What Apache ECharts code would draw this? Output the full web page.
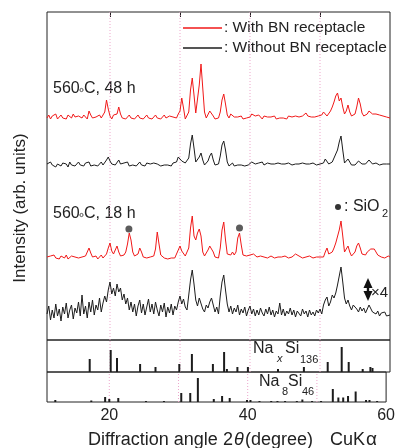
<!DOCTYPE html>
<html>
<head>
<meta charset="utf-8">
<script src="https://cdn.jsdelivr.net/npm/echarts@6/dist/echarts.min.js"></script>
<style>html,body{margin:0;padding:0;background:#fff}#c{width:398px;height:448px}</style>
</head>
<body>
<div id="c"></div>
<script>
// Scan grid (2θ, degrees)
const angleStart = 11, angleStep = 0.25;
// Intensities (arb. units, stacked) — 560°C 48 h, with BN receptacle
const red48 = [
222,225,221,224,223,226,221,223,225,222,224,221,225,223,222,226,223,221,224,223,
222,225,223,221,229,225,222,224,223,221,225,222,224,228,240,231,224,221,225,223,
226,233,226,222,224,221,223,225,222,224,221,223,225,222,224,221,223,225,222,224,
221,223,225,222,224,221,223,225,222,221,224,222,223,221,222,226,229,242,232,221,
220,228,250,262,245,227,226,255,276,252,228,222,224,229,231,224,221,223,222,228,
240,246,236,225,222,226,228,223,221,223,222,224,221,223,222,224,223,226,227,224,
222,225,223,221,224,222,223,221,223,222,224,221,223,222,224,222,223,221,224,222,
223,221,224,222,223,222,224,225,227,224,222,223,221,223,222,224,223,225,228,227,
224,226,229,233,238,244,247,239,242,233,226,229,235,228,224,223,226,233,242,236,
227,224,223,226,229,230,226,227,226,224,225,223,224,222,223,224,222];
// 560°C 48 h, without BN receptacle
const black48 = [
176,174,178,175,177,173,176,178,174,177,175,176,173,178,175,177,174,176,178,175,
176,174,177,175,178,174,176,175,177,174,176,178,175,177,180,183,179,176,178,175,
177,180,176,174,177,175,178,174,176,175,177,174,176,178,175,176,174,177,175,176,
174,177,175,176,178,174,176,175,177,175,176,174,177,175,178,183,185,179,181,177,
175,182,196,205,192,178,176,183,187,180,175,176,179,184,187,180,175,174,176,184,
195,199,190,178,174,175,177,174,176,175,177,175,176,174,176,175,177,178,179,176,
175,177,176,178,175,176,177,175,176,174,176,175,177,175,176,174,176,175,177,176,
175,177,176,174,176,175,177,175,176,174,176,175,177,176,175,174,176,175,177,181,
180,176,174,178,182,186,190,198,204,190,177,176,181,179,175,176,175,177,179,178,
176,175,176,178,180,179,176,175,177,176,175,177,176,175,176,177,176];
// 560°C 18 h, with BN receptacle
const red18 = [
83,81,84,82,85,82,83,81,84,83,82,85,81,83,84,82,83,85,82,84,
83,81,84,86,92,87,83,82,84,81,83,85,82,84,86,92,97,89,86,90,
94,88,84,83,85,88,96,107,100,88,84,83,86,92,88,83,84,82,84,83,
82,84,91,108,96,85,83,82,84,81,83,82,84,82,83,90,94,89,90,84,
82,92,112,124,104,100,107,111,104,88,84,86,90,94,96,88,83,84,82,92,
110,118,100,86,84,85,88,85,88,102,107,95,85,83,84,83,85,87,86,84,
83,85,84,82,83,84,82,83,84,83,82,84,83,85,83,82,84,83,82,84,
83,84,86,87,84,83,82,84,83,82,84,83,82,84,83,82,83,84,83,88,
92,86,84,88,92,97,96,110,119,104,88,90,94,88,84,85,88,94,97,92,
86,84,85,88,90,91,90,91,88,85,84,83,84,82,83,84,83];
// 560°C 18 h, without BN receptacle (×4)
const black18x4 = [
26,34,20,30,22,36,24,31,19,33,26,37,22,30,35,21,32,27,38,24,
45,26,34,22,38,28,40,25,35,30,42,28,37,44,38,50,58,46,52,44,
56,48,52,40,46,36,42,30,38,28,36,24,34,40,27,36,25,33,41,28,
36,26,38,30,24,35,28,37,23,33,27,36,25,34,30,38,44,36,41,33,
30,45,60,70,56,40,34,42,40,31,28,35,32,38,42,35,28,33,26,44,
58,65,50,36,28,34,26,32,28,35,25,31,27,33,24,30,34,26,31,24,
30,25,32,27,24,31,26,33,25,30,23,29,26,37,25,31,24,29,26,32,
25,30,23,29,27,24,31,26,29,23,30,25,28,24,30,27,31,26,35,40,
43,34,38,45,42,47,55,64,73,58,42,36,40,34,30,35,37,31,28,33,
29,32,27,31,35,33,28,30,26,29,24,27,25,28,24,26,25];
// SiO2 markers [2θ, intensity]
const siO2Marks = [[22.7, 111], [38.5, 112]];
// Reference patterns
const naxSi136Angles  = [17.1,20.1,21.0,24.3,26.5,29.9,31.7,34.7,36.3,36.7,38.2,39.7,44.0,47.7,51.1,53.1,54.1,56.1,57.2,57.5];
const naxSi136Heights = [13,22,14,8,5,8,18,8,20,3,5,5,3,5,10,25,10,3,5,4];
const na8Si46Angles  = [12.2,17.4,19.4,20.0,21.3,25.3,27.9,30.4,31.7,32.8,35.1,36.3,37.4,39.9,40.4,41.7,43.4,44.3,45.4,47.1,47.9,49.3,50.6,52.3,53.1,53.8,54.5,55.6,57.1,57.6,58.7];
const na8Si46Heights = [2,1.5,5,3,4,1,1,9,9,24,3,6,4,2,2,1,1,1,1,1,2.5,1,1,13,4.5,4.5,6,10.5,2,2,1];
// Axis
const xMin = 11, xMax = 60;
const xTickLabels = [20, 40, 60];
const xGridLines = [20, 30, 40, 50];

const FONT = 'Liberation Sans, Arial, sans-serif';
const RED = '#f01818', BLK = '#1c1c1c', TXT = '#222';
const toPairs = arr => arr.map((v, i) => [angleStart + i * angleStep, v]);

const chart = echarts.init(document.getElementById('c'), null, { renderer: 'canvas' });
const xBase = (gi, extra) => Object.assign({
  type: 'value', gridIndex: gi, min: xMin, max: xMax,
  axisLine: { show: false }, axisTick: { show: false }, axisLabel: { show: false },
  splitLine: { show: false }
}, extra || {});

const gridSeries = (gi, yMax) => ({
  type: 'custom', xAxisIndex: gi, yAxisIndex: gi, silent: true, z: 1,
  data: xGridLines.map(v => [v]),
  encode: { x: 0 },
  renderItem: (params, api) => {
    const a = api.coord([api.value(0), 0]);
    const b = api.coord([api.value(0), yMax]);
    return { type: 'line', shape: { x1: a[0], y1: a[1], x2: b[0], y2: b[1] },
      style: { stroke: '#eda6cc', lineWidth: 1, lineDash: [1, 2] } };
  }
});
const stickSeries = (gi, angles, heights) => ({
  type: 'custom', xAxisIndex: gi, yAxisIndex: gi, z: 3,
  data: angles.map((a, i) => [a, heights[i]]),
  encode: { x: 0, y: 1 },
  renderItem: (params, api) => {
    const p0 = api.coord([api.value(0), 0]);
    const p1 = api.coord([api.value(0), api.value(1)]);
    return { type: 'rect', shape: { x: p0[0] - 1, y: p1[1], width: 2, height: p0[1] - p1[1] },
      style: { fill: BLK } };
  }
});

chart.setOption({
  animation: false,
  grid: [
    { left: 47, top: 12, width: 343, height: 328, show: true, borderColor: '#222', borderWidth: 1, backgroundColor: 'transparent' },
    { left: 47, top: 340, width: 343, height: 32, show: true, borderColor: '#222', borderWidth: 1, backgroundColor: 'transparent' },
    { left: 47, top: 372, width: 343, height: 30, show: true, borderColor: '#222', borderWidth: 1, backgroundColor: 'transparent' }
  ],
  xAxis: [
    xBase(0),
    xBase(1),
    xBase(2, {
      axisLabel: { show: true, customValues: xTickLabels, fontSize: 16, color: TXT, fontFamily: FONT, margin: 6 }
    }),
    xBase(0, {
      position: 'top',
      axisTick: { show: true, inside: true, length: 5, customValues: xGridLines, lineStyle: { color: '#222', width: 1 } }
    })
  ],
  yAxis: [
    { type: 'value', gridIndex: 0, min: 0, max: 328, show: false },
    { type: 'value', gridIndex: 1, min: 0, max: 32, show: false },
    { type: 'value', gridIndex: 2, min: 0, max: 30, show: false }
  ],
  series: [
    gridSeries(0, 328), gridSeries(1, 32), gridSeries(2, 30),
    { type: 'line', xAxisIndex: 0, yAxisIndex: 0, z: 3, data: toPairs(black18x4), showSymbol: false, lineStyle: { color: BLK, width: 1 } },
    { type: 'line', xAxisIndex: 0, yAxisIndex: 0, z: 3, data: toPairs(red18), showSymbol: false, lineStyle: { color: RED, width: 1 } },
    { type: 'line', xAxisIndex: 0, yAxisIndex: 0, z: 3, data: toPairs(black48), showSymbol: false, lineStyle: { color: BLK, width: 1 } },
    { type: 'line', xAxisIndex: 0, yAxisIndex: 0, z: 3, data: toPairs(red48), showSymbol: false, lineStyle: { color: RED, width: 1 } },
    { type: 'scatter', xAxisIndex: 0, yAxisIndex: 0, z: 4, data: siO2Marks, symbolSize: 7, itemStyle: { color: '#333' } },
    stickSeries(1, naxSi136Angles, naxSi136Heights),
    stickSeries(2, na8Si46Angles, na8Si46Heights)
  ],
  graphic: [
    { type: 'line', shape: { x1: 183, y1: 28, x2: 222, y2: 28 }, style: { stroke: RED, lineWidth: 1.5 } },
    { type: 'line', shape: { x1: 183, y1: 48, x2: 222, y2: 48 }, style: { stroke: BLK, lineWidth: 1.5 } },
    { type: 'text', x: 224, y: 28, style: { text: ': With BN receptacle', font: '15.5px ' + FONT, fill: TXT, verticalAlign: 'middle' } },
    { type: 'text', x: 224, y: 48, style: { text: ': Without BN receptacle', font: '15.5px ' + FONT, fill: TXT, verticalAlign: 'middle' } },
    { type: 'text', x: 53, y: 89, style: { text: '560', font: '16px ' + FONT, fill: TXT, verticalAlign: 'middle' } },
    { type: 'circle', shape: { cx: 81.5, cy: 90, r: 1.6 }, style: { fill: 'none', stroke: '#555', lineWidth: 1 } },
    { type: 'text', x: 84, y: 89, style: { text: 'C, 48 h', font: '16px ' + FONT, fill: TXT, verticalAlign: 'middle' } },
    { type: 'text', x: 53, y: 214, style: { text: '560', font: '16px ' + FONT, fill: TXT, verticalAlign: 'middle' } },
    { type: 'circle', shape: { cx: 81.5, cy: 215, r: 1.6 }, style: { fill: 'none', stroke: '#555', lineWidth: 1 } },
    { type: 'text', x: 84, y: 214, style: { text: 'C, 18 h', font: '16px ' + FONT, fill: TXT, verticalAlign: 'middle' } },
    { type: 'circle', shape: { cx: 338, cy: 207, r: 3 }, style: { fill: '#333' } },
    { type: 'text', x: 344, y: 207, style: { text: ': SiO', font: '16px ' + FONT, fill: TXT, verticalAlign: 'middle' } },
    { type: 'text', x: 382, y: 214, style: { text: '2', font: '11px ' + FONT, fill: TXT, verticalAlign: 'middle' } },
    { type: 'polygon', shape: { points: [[368, 278], [363.5, 288], [372.5, 288]] }, style: { fill: '#111' } },
    { type: 'polygon', shape: { points: [[368, 301], [363.5, 291], [372.5, 291]] }, style: { fill: '#111' } },
    { type: 'rect', shape: { x: 366.8, y: 286, width: 2.4, height: 7 }, style: { fill: '#111' } },
    { type: 'text', x: 371, y: 293, style: { text: '\u00d74', font: '15px ' + FONT, fill: TXT, verticalAlign: 'middle' } },
    { type: 'text', x: 253, y: 349, style: { text: 'Na', font: '16px ' + FONT, fill: TXT, verticalAlign: 'middle' } },
    { type: 'text', x: 277, y: 359, style: { text: 'x', font: 'italic 11px ' + FONT, fill: TXT, verticalAlign: 'middle' } },
    { type: 'text', x: 285, y: 349, style: { text: 'Si', font: '16px ' + FONT, fill: TXT, verticalAlign: 'middle' } },
    { type: 'text', x: 300, y: 360, style: { text: '136', font: '11px ' + FONT, fill: TXT, verticalAlign: 'middle' } },
    { type: 'text', x: 259, y: 382, style: { text: 'Na', font: '16px ' + FONT, fill: TXT, verticalAlign: 'middle' } },
    { type: 'text', x: 282, y: 392, style: { text: '8', font: '11px ' + FONT, fill: TXT, verticalAlign: 'middle' } },
    { type: 'text', x: 288, y: 382, style: { text: 'Si', font: '16px ' + FONT, fill: TXT, verticalAlign: 'middle' } },
    { type: 'text', x: 302, y: 392, style: { text: '46', font: '11px ' + FONT, fill: TXT, verticalAlign: 'middle' } },
    { type: 'text', x: 20, y: 208, rotation: Math.PI / 2,
      style: { text: 'Intensity (arb. units)', font: '17px ' + FONT, fill: TXT, align: 'center', verticalAlign: 'middle' } },
    { type: 'text', x: 88, y: 440, style: { text: 'Diffraction angle', font: '18px ' + FONT, fill: TXT, verticalAlign: 'middle' } },
    { type: 'text', x: 223, y: 440, style: { text: '2', font: '18px ' + FONT, fill: TXT, verticalAlign: 'middle' } },
    { type: 'text', x: 234, y: 440, style: { text: '\u03b8', font: 'italic 18px ' + FONT, fill: TXT, verticalAlign: 'middle' } },
    { type: 'text', x: 245, y: 440, style: { text: '(degree)', font: '18px ' + FONT, fill: TXT, verticalAlign: 'middle' } },
    { type: 'text', x: 330, y: 440, style: { text: 'CuK', font: '18px ' + FONT, fill: TXT, verticalAlign: 'middle' } },
    { type: 'text', x: 366, y: 440, style: { text: '\u03b1', font: '19px ' + FONT, fill: TXT, verticalAlign: 'middle' } }
  ]
});
</script>
</body>
</html>
